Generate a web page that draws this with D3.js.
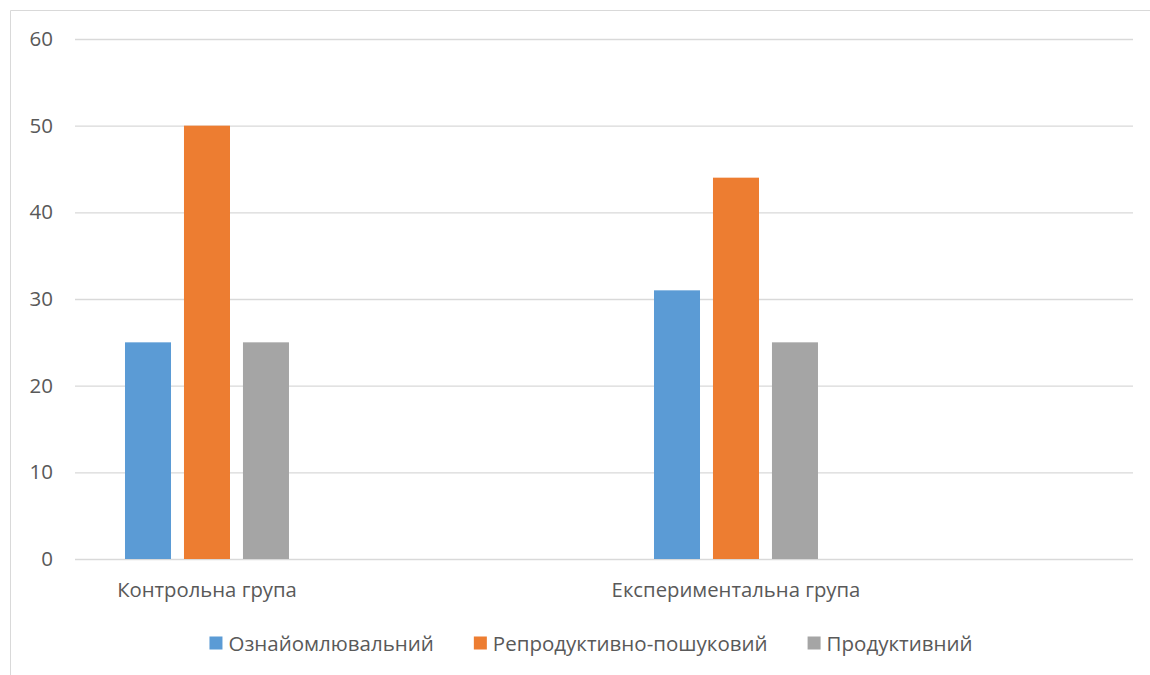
<!DOCTYPE html>
<html>
<head>
<meta charset="utf-8">
<script src="https://cdn.jsdelivr.net/npm/d3@7"></script>
<style>
  html, body { margin: 0; padding: 0; background: #fff; }
  svg { display: block; }
  text { font-family: "Open Sans", "Noto Sans", sans-serif; fill: #595959; }
</style>
</head>
<body>
<svg id="chart" width="1150" height="675"></svg>
<script>
// Categories, series names and values
const categories = ["Контрольна група", "Експериментальна група"];
const seriesNames = ["Ознайомлювальний", "Репродуктивно-пошуковий", "Продуктивний"];
const seriesColors = ["#5B9BD5", "#ED7D31", "#A5A5A5"];
const values = [
  [25, 31],   // Ознайомлювальний
  [50, 44],   // Репродуктивно-пошуковий
  [25, 25]    // Продуктивний
];
const yTicks = [0, 10, 20, 30, 40, 50, 60];

const svg = d3.select("#chart");
const W = 1150, H = 675;

// Chart frame
svg.append("path")
  .attr("d", `M10.5,${H} V10.5 H${W}`)
  .attr("fill", "none")
  .attr("stroke", "#D9D9D9")
  .attr("stroke-width", 1);

const plot = { left: 75, right: 1133, top: 39, bottom: 559 };

const y = d3.scaleLinear().domain([0, 60]).range([plot.bottom, plot.top]);
const x0 = d3.scaleBand().domain(categories).range([plot.left, plot.right]).padding(0);
const bw = x0.bandwidth();

// Bars sit in the left part of each category slot
const groupStart = bw * 0.0945, groupEnd = bw * 0.4045;
const x1 = d3.scaleBand().domain(seriesNames).range([groupStart, groupEnd]).paddingInner(0.22).paddingOuter(0);

// Gridlines and value labels
const yAxis = d3.axisLeft(y).tickValues(yTicks).tickSize(-(plot.right - plot.left)).tickPadding(22);
const gy = svg.append("g").attr("transform", `translate(${plot.left},0)`).call(yAxis);
gy.select(".domain").remove();
gy.selectAll(".tick line").attr("stroke", "#D9D9D9").attr("stroke-width", 1.3);
gy.selectAll(".tick text").attr("font-size", 20.5).style("fill", "#595959")
  .style("font-family", '"Open Sans", sans-serif');

// Bars
categories.forEach((cat, ci) => {
  const g = svg.append("g").attr("transform", `translate(${x0(cat)},0)`);
  g.selectAll("rect")
    .data(seriesNames.map((s, si) => ({ s, si, v: values[si][ci] })))
    .join("rect")
    .attr("x", d => x1(d.s))
    .attr("y", d => y(d.v))
    .attr("width", x1.bandwidth())
    .attr("height", d => y(0) - y(d.v))
    .attr("fill", d => seriesColors[d.si]);

  // Category label centred under the bar group
  g.append("text")
    .attr("x", (groupStart + groupEnd) / 2)
    .attr("y", 597)
    .attr("text-anchor", "middle")
    .attr("font-size", 20.3)
    .text(cat);
});

// Legend
const legend = svg.append("g");
const sq = 13, gapText = 6, gapItem = 40;
const items = legend.selectAll("g").data(seriesNames).join("g");
items.append("rect").attr("width", sq).attr("height", sq).attr("y", -sq / 2 - 1)
  .attr("fill", (d, i) => seriesColors[i]);
items.append("text").attr("x", sq + gapText).attr("dy", "0.35em").attr("font-size", 20.5).text(d => d);
let xpos = 0;
const widths = [];
items.each(function () { widths.push(sq + gapText + d3.select(this).select("text").node().getComputedTextLength()); });
const total = d3.sum(widths) + gapItem * (widths.length - 1);
xpos = (203 + 979) / 2 - total / 2;
items.attr("transform", (d, i) => {
  const t = `translate(${xpos},644)`;
  xpos += widths[i] + gapItem;
  return t;
});
</script>
</body>
</html>
